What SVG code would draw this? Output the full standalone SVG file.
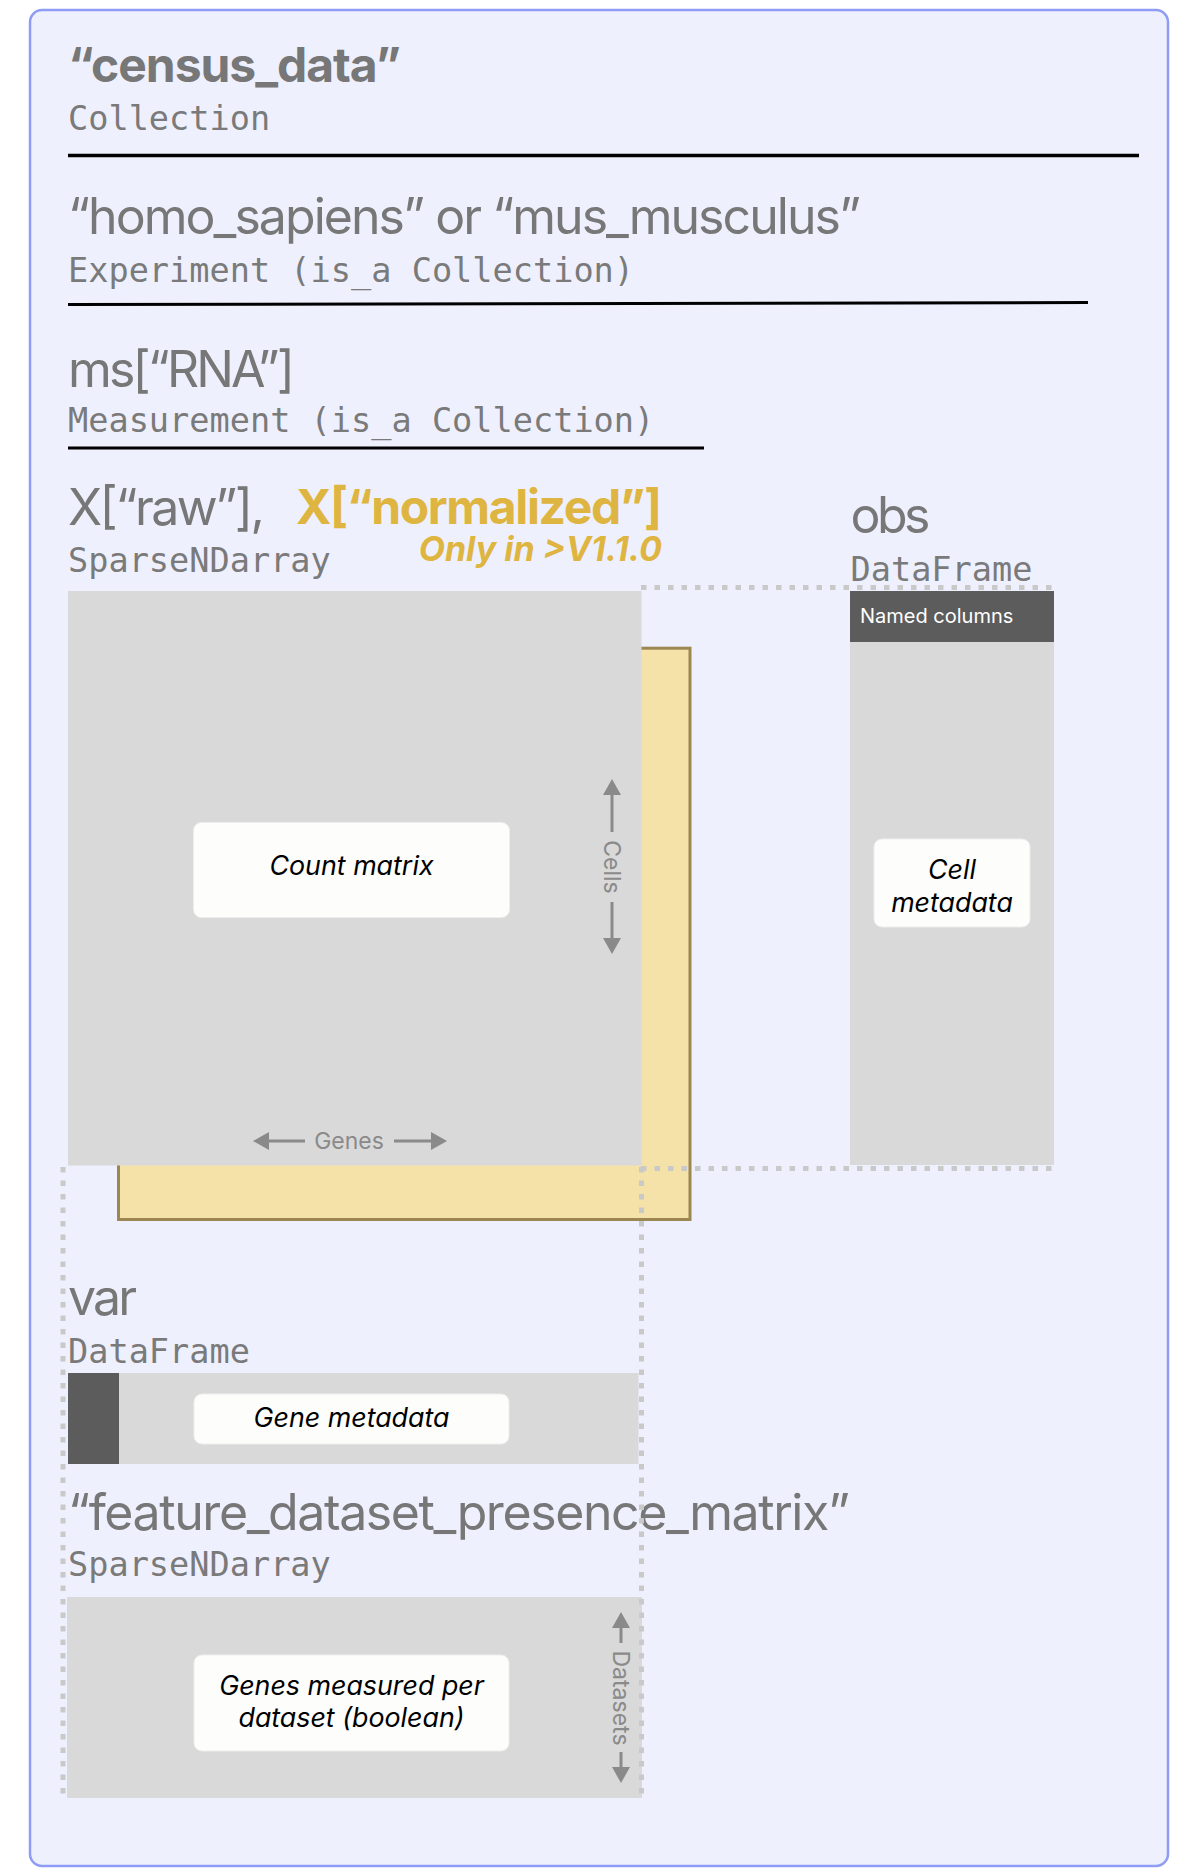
<svg xmlns="http://www.w3.org/2000/svg" width="1191" height="1874" viewBox="0 0 1191 1874">
  <defs>
    <style>
      .head{font-family:Inter,Roboto,"Liberation Sans",sans-serif;font-size:50px;fill:#777777}
      .bold{font-weight:700;font-size:48px}
      .mono{font-family:"DejaVu Sans Mono","Liberation Mono",monospace;font-size:33.6px;fill:#7a7a7a}
      .rule{stroke:#000000;stroke-width:3.5;fill:none}
      .cell{fill:#d9d9d9}
      .dark{fill:#5c5c5c}
      .card{fill:#fdfdfc;stroke:#eeeeee;stroke-width:1}
      .note{font-family:Inter,Roboto,"Liberation Sans",sans-serif;font-style:italic;font-size:26.8px;fill:#000000;text-anchor:middle}
      .axis{font-family:Inter,Roboto,"Liberation Sans",sans-serif;font-size:23px;fill:#8a8a8a;text-anchor:middle;dominant-baseline:central}
      .arrow{stroke:#8a8a8a;stroke-width:3;fill:none;marker-end:url(#head)}
      .dots{stroke:#c9c9c9;stroke-width:5;stroke-dasharray:5.5 8;fill:none}
      .gold{fill:#dfb541}
    </style>
    <marker id="head" markerUnits="userSpaceOnUse" viewBox="0 0 16 18" markerWidth="16" markerHeight="18" refX="0" refY="9" orient="auto">
      <path d="M0,0 L16,9 L0,18 z" fill="#8a8a8a"/>
    </marker>
  </defs>

  <rect width="1191" height="1874" fill="#ffffff"/>

  <!-- census_data collection frame -->
  <g id="census-data">
    <rect x="30" y="10" width="1138" height="1856" rx="12" fill="#eef0fe" stroke="#8e9cf6" stroke-width="2.5"/>
    <text class="head bold" x="68" y="82" textLength="333" lengthAdjust="spacing">“census_data”</text>
    <text class="mono" x="68" y="130">Collection</text>
    <line class="rule" x1="68" y1="155.5" x2="1139" y2="155.5"/>
  </g>

  <!-- experiment level -->
  <g id="experiment">
    <text class="head" x="68" y="233.5" textLength="793" lengthAdjust="spacing">“homo_sapiens” or “mus_musculus”</text>
    <text class="mono" x="68" y="282">Experiment (is_a Collection)</text>
    <line class="rule" x1="68" y1="304.5" x2="1088" y2="302.5" style="stroke-width:3"/>
  </g>

  <!-- measurement level -->
  <g id="measurement">
    <text class="head" x="68" y="387" textLength="227" lengthAdjust="spacing">ms[“RNA”]</text>
    <text class="mono" x="68" y="432">Measurement (is_a Collection)</text>
    <line class="rule" x1="68" y1="448" x2="704" y2="448" style="stroke-width:3.2"/>
  </g>

  <!-- normalized layer behind the raw counts -->
  <g id="x-normalized">
    <rect x="118.5" y="648.2" width="571.5" height="571.3" fill="#f4e2a9" stroke="#9c8652" stroke-width="3"/>
    <text class="head bold gold" x="296" y="523.5" textLength="366" lengthAdjust="spacing">X[“normalized”]</text>
    <text class="gold" x="662" y="561" text-anchor="end" style="font-family:Inter,Roboto,'Liberation Sans',sans-serif;font-weight:700;font-style:italic;font-size:34px">Only in &gt;V1.1.0</text>
  </g>

  <!-- raw count matrix -->
  <g id="x-raw">
    <text class="head" x="68" y="524.5" textLength="197" lengthAdjust="spacing">X[“raw”],</text>
    <text class="mono" x="68" y="572">SparseNDarray</text>
    <rect class="cell" x="68" y="591" width="573.5" height="574.5"/>
    <rect class="card" x="193.5" y="822.5" width="316" height="95" rx="8"/>
    <text class="note" x="351.5" y="875">Count matrix</text>
  </g>

  <!-- obs dataframe -->
  <g id="obs">
    <text class="head" x="850.5" y="533" textLength="80" lengthAdjust="spacing">obs</text>
    <text class="mono" x="850.5" y="581">DataFrame</text>
    <rect class="dark" x="850" y="591" width="204" height="51"/>
    <text x="860" y="623" fill="#ffffff" style="font-family:Inter,Roboto,'Liberation Sans',sans-serif;font-size:20px">Named columns</text>
    <rect class="cell" x="850" y="642" width="204" height="523"/>
    <rect class="card" x="874" y="839" width="156" height="88" rx="8"/>
    <text class="note" x="952" y="879">Cell</text>
    <text class="note" x="952" y="912">metadata</text>
  </g>

  <!-- var dataframe -->
  <g id="var">
    <text class="head" x="68" y="1315" textLength="69" lengthAdjust="spacing">var</text>
    <text class="mono" x="68" y="1363">DataFrame</text>
    <rect class="cell" x="68" y="1373" width="570.5" height="91"/>
    <rect class="dark" x="68" y="1373" width="51" height="91"/>
    <rect class="card" x="194" y="1394" width="315" height="50" rx="8"/>
    <text class="note" x="351.5" y="1427">Gene metadata</text>
  </g>

  <!-- feature dataset presence matrix -->
  <g id="feature-dataset-presence-matrix">
    <text class="head" x="68" y="1530" textLength="782" lengthAdjust="spacing">“feature_dataset_presence_matrix”</text>
    <text class="mono" x="68" y="1576">SparseNDarray</text>
    <rect class="cell" x="67" y="1597" width="575" height="201"/>
    <rect class="card" x="194" y="1655" width="315" height="96" rx="8"/>
    <text class="note" x="351.5" y="1695">Genes measured per</text>
    <text class="note" x="351.5" y="1727">dataset (boolean)</text>
  </g>

  <!-- axis arrows and dotted alignment guides -->
  <g id="connectors">
    <line class="dots" x1="641" y1="587.5" x2="1054" y2="587.5"/>
    <line class="dots" x1="641" y1="1168.5" x2="1054" y2="1168.5"/>
    <line class="dots" x1="63" y1="1167" x2="63" y2="1798"/>
    <line class="dots" x1="641.5" y1="1167" x2="641.5" y2="1798"/>

    <line class="arrow" x1="612" y1="832" x2="612" y2="795"/>
    <line class="arrow" x1="612" y1="902" x2="612" y2="938"/>
    <text class="axis" transform="translate(612,867) rotate(90)">Cells</text>

    <line class="arrow" x1="305" y1="1141" x2="269" y2="1141"/>
    <line class="arrow" x1="394" y1="1141" x2="431" y2="1141"/>
    <text class="axis" x="349" y="1141">Genes</text>

    <line class="arrow" x1="621" y1="1643" x2="621" y2="1628"/>
    <line class="arrow" x1="621" y1="1752" x2="621" y2="1767"/>
    <text class="axis" transform="translate(621,1698) rotate(90)">Datasets</text>
  </g>
</svg>
